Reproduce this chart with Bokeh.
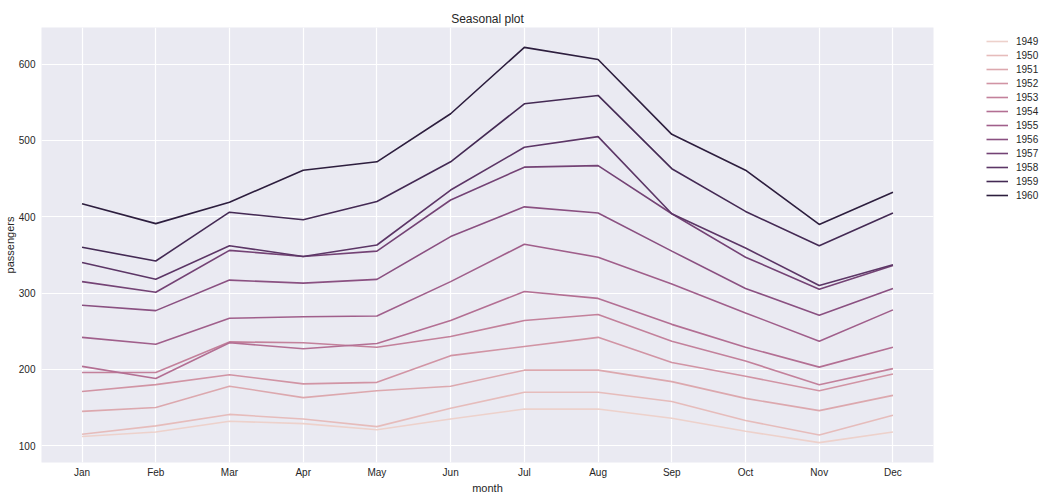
import numpy as np
from bokeh.plotting import figure
from bokeh.models import Legend, LegendItem, Range1d, FixedTicker
from bokeh.embed import file_html
from bokeh.resources import INLINE

months = ["Jan", "Feb", "Mar", "Apr", "May", "Jun", "Jul", "Aug", "Sep", "Oct", "Nov", "Dec"]
years = [1949, 1950, 1951, 1952, 1953, 1954, 1955, 1956, 1957, 1958, 1959, 1960]
p1949 = [112, 118, 132, 129, 121, 135, 148, 148, 136, 119, 104, 118]
p1950 = [115, 126, 141, 135, 125, 149, 170, 170, 158, 133, 114, 140]
p1951 = [145, 150, 178, 163, 172, 178, 199, 199, 184, 162, 146, 166]
p1952 = [171, 180, 193, 181, 183, 218, 230, 242, 209, 191, 172, 194]
p1953 = [196, 196, 236, 235, 229, 243, 264, 272, 237, 211, 180, 201]
p1954 = [204, 188, 235, 227, 234, 264, 302, 293, 259, 229, 203, 229]
p1955 = [242, 233, 267, 269, 270, 315, 364, 347, 312, 274, 237, 278]
p1956 = [284, 277, 317, 313, 318, 374, 413, 405, 355, 306, 271, 306]
p1957 = [315, 301, 356, 348, 355, 422, 465, 467, 404, 347, 305, 336]
p1958 = [340, 318, 362, 348, 363, 435, 491, 505, 404, 359, 310, 337]
p1959 = [360, 342, 406, 396, 420, 472, 548, 559, 463, 407, 362, 405]
p1960 = [417, 391, 419, 461, 472, 535, 622, 606, 508, 461, 390, 432]
series = [p1949, p1950, p1951, p1952, p1953, p1954, p1955, p1956, p1957, p1958, p1959, p1960]


def cubehelix(t, start=0.0, rot=0.4, gamma=1.0, hue=0.8, light=0.85, dark=0.15):
    x = light + (dark - light) * t
    xg = x ** gamma
    a = hue * xg * (1 - xg) / 2
    phi = 2 * np.pi * (start / 3 + rot * x)
    r = xg + a * (-0.14861 * np.cos(phi) + 1.78277 * np.sin(phi))
    g = xg + a * (-0.29227 * np.cos(phi) - 0.90649 * np.sin(phi))
    b = xg + a * (1.97294 * np.cos(phi))
    c = [int(round(min(max(v, 0), 1) * 255)) for v in (r, g, b)]
    return "#%02x%02x%02x" % tuple(c)


TEXT = "#262626"
FONT = "Liberation Sans"

p = figure(frame_width=892, frame_height=435, output_backend="svg", toolbar_location=None,
           x_range=Range1d(-0.55, 11.55), y_range=Range1d(78, 648),
           background_fill_color="#EAEAF2", border_fill_color="white",
           min_border_left=35, min_border_top=27, min_border_bottom=31, min_border_right=105)
p.outline_line_color = None

p.title.text = "Seasonal plot"
p.title.align = "center"
p.title.text_font = FONT
p.title.text_font_size = "12px"
p.title.text_font_style = "normal"
p.title.text_color = TEXT
p.title.standoff = 3

x = list(range(12))
items = []
n = len(years)
for i, (yr, vals) in enumerate(zip(years, series)):
    col = cubehelix(i / (n - 1))
    r = p.line(x, vals, line_color=col, line_width=1.6)
    items.append(LegendItem(label=str(yr), renderers=[r]))

legend = Legend(items=items, location=(53, 260), border_line_color=None,
                background_fill_alpha=0, glyph_width=22, glyph_height=14,
                label_height=14, label_standoff=8, spacing=0, padding=0,
                margin=0, label_text_font=FONT, label_text_font_size="10px",
                label_text_color=TEXT)
p.add_layout(legend, "right")

p.xaxis.ticker = FixedTicker(ticks=x)
p.xaxis.major_label_overrides = {i: m for i, m in enumerate(months)}
p.yaxis.ticker = FixedTicker(ticks=[100, 200, 300, 400, 500, 600])
for ax in (p.xaxis, p.yaxis):
    ax.axis_line_color = None
    ax.major_tick_line_color = None
    ax.minor_tick_line_color = None
    ax.major_tick_out = 0
    ax.major_tick_in = 0
    ax.minor_tick_out = 0
    ax.minor_tick_in = 0
    ax.major_label_text_font = FONT
    ax.major_label_text_font_size = "10px"
    ax.major_label_text_color = TEXT
    ax.axis_label_text_font = FONT
    ax.axis_label_text_font_size = "11px"
    ax.axis_label_text_font_style = "normal"
    ax.axis_label_text_color = TEXT
p.xaxis.axis_label = "month"
p.yaxis.axis_label = "passengers"
p.xaxis.major_label_standoff = 4
p.yaxis.major_label_standoff = 6
p.xaxis.axis_label_standoff = 1
p.yaxis.axis_label_standoff = 0

p.xgrid.grid_line_color = "white"
p.ygrid.grid_line_color = "white"
p.xgrid.grid_line_width = 1.2
p.ygrid.grid_line_width = 1.2

open("out.html", "w").write(file_html(p, INLINE))
